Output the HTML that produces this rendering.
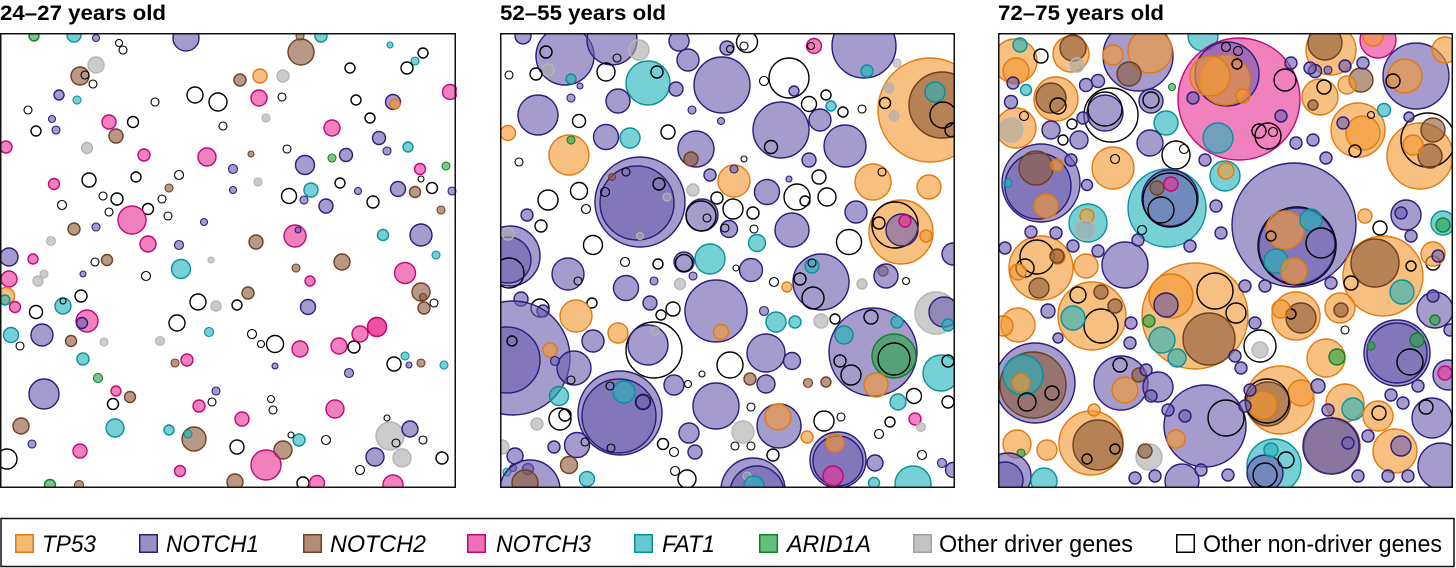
<!DOCTYPE html>
<html><head><meta charset="utf-8"><style>
html,body{margin:0;padding:0;background:#fff;}
svg{display:block;}
text{font-family:"Liberation Sans",Arial,sans-serif;}
</style></head><body>
<svg id="chart" width="1456" height="568" viewBox="0 0 1456 568">
<defs>
<clipPath id="c0"><rect x="0" y="33" width="457" height="455"/></clipPath>
<clipPath id="c1"><rect x="500" y="33" width="455" height="455"/></clipPath>
<clipPath id="c2"><rect x="998" y="33" width="455" height="455"/></clipPath>
</defs>
<g id="titles"></g>
<g id="panels"></g>
<g id="legend"></g>
</svg>
<script>
// ---- data ----
const panelTitles = ["24–27 years old","52–55 years old","72–75 years old"];
const geneCodes = ["T","N1","N2","N3","F","A","O","W"];
const geneLabels = ["TP53","NOTCH1","NOTCH2","NOTCH3","FAT1","ARID1A","Other driver genes","Other non-driver genes"];
// clones: [gene, x(µm-like units 0-456), y, radius]
const clones1 = [
["N1",186,5,13],["F",74,2,7],["A",34,3,5],["N1",96,5,3.5],["W",119,10,3.5],["W",123,17,4],["N2",301,19,13],["N2",300,3,4],["F",321,3,6],["F",390,12,3],["W",423,20,5],["F",415,28,4],["W",407,35,6],["W",350,35,5],
["O",96,32,8],["N2",80,43,9],["W",85,42,4],["W",93,51,4],["T",260,43,7],["N2",240,47,6],["O",283,43,6],["N3",259,65,8],["W",282,64,4],["W",195,62,8],["W",218,69,9],["W",155,69,4],["N1",59,62,5],["F",77,67,4],["W",28,77,4],["N1",52,86,3.5],["N1",56,97,4],["W",36,98,5],["N3",109,89,7],["W",133,89,5.5],["N2",116,103,7],["N3",6,114,6],["O",87,115,5.5],["N3",144,122,6],["N3",207,124,9],["O",266,85,4],["W",223,93,4],["N2",251,121,3],["W",287,116,4],["N1",305,132,9.5],["A",332,125,4],["N1",346,122,6.5],["N3",332,95,8],["W",370,85,5],["W",356,67,5],["N1",393,69,7.5],["T",395,71,5],["N3",450,59,7.5],["N1",379,105,6.5],["N1",387,118,4],["F",408,114,5],["N3",420,136,5.5],["A",446,133,4],["W",421,146,3],["W",432,155,5.5],["N1",398,156,7.5],["N2",415,159,5.5],["N1",452,158,4],["N2",441,177,4],["W",373,169,6],["N1",358,158,3.5],["W",340,150,5],["F",311,157,7],["N1",304,167,4],["W",289,163,7.5],["N1",326,173,7],["O",258,149,4],["N1",233,136,4.5],["N1",233,157,3.5],["W",179,142,4.5],["W",136,144,5],["W",89,147,7],["N3",54,151,5.5],["N2",169,155,4],["W",103,163,4],["W",117,166,6],["W",162,166,4],["W",148,176,5.5],["W",62,172,4.5],["W",109,179,4],["W",168,183,4],
["N3",132,187,14],["N1",204,189,3.5],["N2",74,196,6],["N1",96,194,4],["O",51,208,4.5],["N3",148,211,8],["N1",179,212,4.5],["N2",256,209,7],["N3",295,203,11],["N1",298,197,3],["F",383,202,5.5],["N1",421,202,11],["F",436,222,4],["N1",9,224,9],["N3",33,226,5],["W",95,229,4],["N2",107,227,5.5],["F",181,236,9.5],["O",211,227,3],["N2",342,229,8],["N2",296,235,4],["N3",405,240,10.5],["N3",310,248,5],["N3",9,246,8],["O",44,241,4],["O",38,248,5],["N1",83,241,3],["W",146,243,4.5],
["T",6,263,8.5],["F",5,267,5],["N3",15,274,5.5],["W",36,279,6.5],["F",63,273,8],["W",63,268,3],["W",81,263,6],["N3",87,288,11],["N1",82,290,5.5],["N2",248,260,6],["W",198,269,8],["O",216,273,5],["W",237,272,5],["N1",308,274,7.5],["N2",421,259,9],["N2",423,264,3.5],["N2",424,275,6],["W",434,270,4],["F",11,302,7.5],["N1",42,302,11],["W",20,313,4],["N2",71,308,5.5],["O",104,309,4],["W",177,290,8],["O",160,308,4.5],["F",209,299,4.5],["W",252,301,4.5],["W",261,311,3.5],["W",275,311,8.5],["N3",300,316,8],["N3",339,313,8],["W",354,314,6],["N3",360,301,8],["N3",377,294,9.5],["N3",377,294,9.5],
["F",83,326,6],["N2",175,330,4],["N3",187,327,6],["N1",275,333,3],["W",394,331,7],["F",405,323,4],["N1",409,332,3],["N2",421,330,4],["F",444,332,4],["N1",349,340,4.5],["A",98,345,4.5],["N1",44,361,15],["N3",116,358,5],["N2",130,364,5.5],["W",113,371,5.5],["N1",216,358,4],["W",212,369,4],["W",271,366,3.5],["W",273,377,4],["N3",199,373,6],["N3",242,386,7],["N3",335,376,9],["N2",21,393,8],["F",115,395,9],["F",169,397,5],["N2",194,406,12],["F",188,401,4],["W",237,414,7],["N2",283,417,9],["F",299,407,6],["W",291,402,3],["W",326,407,4.5],["O",390,403,14],["W",396,410,4],["W",387,385,3],["N1",410,396,8],["W",423,407,4],["N1",32,411,4],["N3",80,418,7],["W",7,426,10],["N1",375,424,9],["O",402,425,9],["W",442,425,6],["W",360,437,4.5],["N3",266,432,15],["N3",180,438,5.5],["A",50,452,5.5],["N2",79,452,4.5],["N2",235,449,8],["W",303,450,6],["N3",317,450,7.5],["N3",393,452,10]
];
const clones2 = [
["N1",65,23,29],["W",46,19,6],["O",48,37,6],["F",71,46,5],["N1",112,7,25],["N1",23,3,8],["O",139,17,10],["N1",179,8,10],["N1",188,27,11],["N1",227,15,7],["W",230,16,3.5],["W",247,9,10.5],["W",244,13,4],["N3",314,13,7.5],["W",311,13,3.5],["N1",364,13,32],["F",367,38,6],["O",397,30,4],
["T",430,77,52],["N2",442,72,33],["F",435,59,10],["W",443,82,13],["W",452,97,7],
["W",106,39,9],["W",117,25,4],["W",36,41,6],["W",9,42,4],["F",148,50,22],["W",157,39,6],["N1",176,56,7],["N1",222,52,28],["N1",80,53,3],["W",289,45,20],["N1",294,58,5],["W",264,48,4.5],["N1",38,82,20],["N1",71,65,4],["N1",118,68,12],["W",79,88,6.5],["T",8,100,7.5],["N1",106,104,12.5],["F",130,105,10],["T",69,122,20],["A",71,107,4],["W",19,129,4],["W",168,99,7],["N1",196,116,18],["N2",191,126,7],["N1",192,77,4],["N1",221,88,3.5],["N1",281,97,28],["W",271,114,6.5],["N1",320,87,11],["W",309,71,7.5],["W",326,62,5],["F",331,73,5],["W",343,79,5],["W",362,76,4],["N1",345,113,21],["O",389,55,5],["O",394,83,5],["W",385,70,5.5],["N1",309,127,7],["W",244,126,3],
["N1",140,169,45],["N1",137,170,37],["W",126,139,4],["W",159,151,6],["W",105,159,4.5],["O",167,164,4],["O",140,203,3.5],["N2",112,144,3.5],
["T",234,148,16],["N1",234,136,4],["N1",210,142,6],["O",193,157,6],["W",217,165,6],["W",233,176,10],["W",253,180,6],["N1",267,159,12.5],["W",297,164,13],["W",305,168,5],["W",327,164,9],["W",319,144,7],["N1",289,146,3],["T",373,149,18],["W",382,139,4],["T",429,154,12],
["T",401,199,32],["W",395,192,23],["N1",402,197,16],["N3",405,188,6],["T",426,203,6],["W",379,190,6],["N1",356,179,11],["W",349,209,12.5],["N1",292,197,17],["N1",202,182,16],["W",201,183,15],["W",207,185,4],["N1",229,196,8.5],["W",225,195,4],["F",257,210,8.5],["W",254,196,4],["W",93,212,9.5],["W",48,167,10],["W",79,158,8.5],["W",86,176,4.5],["N1",27,182,6],["W",41,193,6],
["N1",10,223,30],["N1",8,227,23],["O",8,201,6],["W",9,240,15],["N1",453,221,11],["N1",68,241,16],["W",78,248,4],["W",125,229,4.5],["W",158,231,5],["F",210,226,15],["N1",184,229,10],["W",184,230,8.5],["N1",193,243,4],["N1",251,237,11.5],["W",236,235,3],
["N1",321,249,28],["F",312,233,7],["W",300,246,6],["W",313,265,11],["W",312,230,4],["N2",383,238,5],["N1",386,243,12],["W",406,248,3.5],["O",362,251,5],["T",287,254,5],["W",274,249,4.5],["O",180,251,5.5],["N1",154,248,4],["N1",126,255,12.5],["N1",21,266,7],["W",40,275,9],["N1",43,278,6],["W",92,270,5],["T",76,283,16],["N1",150,270,7],["W",161,282,5],["W",173,276,7],["N1",216,278,31],["T",221,299,7.5],["N1",264,278,4.5],["F",276,289,10],["F",295,289,6],["O",321,288,7],["W",335,286,5],
["O",436,280,21],["N1",444,279,15],["F",448,292,6],
["N1",373,319,44],["F",344,302,9],["A",394,323,22],["W",394,326,16],["T",376,352,12],["W",351,342,10],["W",340,328,6],["W",371,284,7],["F",397,289,6],
["N1",13,325,57],["N1",7,327,33],["W",12,308,5],["T",118,300,10],["W",154,317,28],["N1",148,312,20],["O",155,298,4],["N1",93,308,11],["T",50,317,7],["N1",74,335,17],["W",71,347,4],["N1",55,328,4.5],["W",230,332,13],["N1",266,320,19],["N1",292,328,8.5],["F",441,340,18],["W",448,328,6],["N1",174,352,10],["W",202,341,3],["W",188,351,3.5],["N2",250,346,6],["N1",266,351,9],["N2",308,350,4.5],["N2",326,349,5],
["N1",120,380,42],["N1",119,383,37],["F",124,359,11],["W",143,369,7.5],["W",110,353,4],["W",111,415,4],["N1",143,369,7],
["F",59,363,9.5],["W",60,386,11],["W",65,382,6],["O",37,391,6],["N1",216,373,23],["W",251,374,4],["W",341,384,4],["N1",279,393,22],["T",278,384,13],["W",324,388,10],["N3",415,386,6],["O",421,394,4.5],["W",414,363,7.5],["F",398,369,8],["W",448,369,6],["W",390,389,5],["O",243,399,11],["N1",189,400,10],["T",307,404,6],
["N1",338,427,28],["N1",338,428,25],["T",335,410,9],["N3",333,443,10],["N1",77,412,12.5],["W",85,409,4],["N1",54,414,6],["N1",15,423,8],["O",2,414,7],["N2",69,432,8.5],["F",87,446,7.5],["N1",28,436,5.5],["F",7,439,4],["N1",13,435,3.5],["N1",30,457,30],["N2",25,450,13],
["W",163,411,5.5],["W",174,419,4.5],["W",175,438,4.5],["W",187,446,9],["W",235,413,4],["W",251,413,4],["W",273,422,6],["N1",195,419,7],["N1",253,457,32],["N1",257,460,27],["O",247,443,4],["F",254,453,10],["W",379,401,4.5],["W",422,422,4.5],["N1",375,430,8],["F",413,451,18],["F",374,450,5.5],["N1",453,437,7.5],["N1",442,430,4.5]
];
const clones3 = [
["T",17,28,22],["F",22,12,7],["T",18,38,13],["T",73,21,18],["N2",75,15,13],["O",79,32,7],["N1",140,23,35],["T",152,18,22],["N2",131,41,12],["T",115,22,10],["F",205,3,15],
["N3",241,66,61],["N1",229,41,32],["T",227,47,25],["T",212,43,20],["F",220,105,15],["W",270,103,13],["W",287,47,11],["W",261,98,7],["W",275,99,4.5],["T",245,63,7],["W",239,31,5],["W",228,14,4.5],["W",240,18,4.5],
["N3",380,7,18],["T",375,3,10],["T",333,17,25],["N2",327,10,17],["N1",418,43,33],["T",407,43,17],["W",395,48,7],["T",447,17,13],
["W",43,23,7],["F",28,57,5.5],["A",174,54,3.5],["T",58,66,22],["N2",53,65,15],["W",60,73,8],["T",18,95,20],["O",13,97,12],["W",26,83,4.5],["N1",13,69,6.5],
["W",113,82,27],["N1",107,80,18],["W",107,76,17],["N1",153,68,12],["W",153,67,8],["N1",81,107,9],["N1",100,48,6.5],["N1",88,52,6.5],["W",74,91,5],["W",65,107,5],["N1",53,97,9],["F",168,90,12],["N1",152,110,13],["W",178,122,14],["W",186,116,4.5],
["T",322,64,18],["N2",315,72,5],["W",326,54,7],["N2",363,47,12],["T",349,52,9],["N1",317,38,6.5],["N1",330,37,4],
["T",360,97,27],["T",365,100,17],["W",357,118,6],["W",373,82,3.5],["F",386,77,6.5],
["T",422,123,33],["W",430,107,27],["N2",435,97,12],["N2",432,123,12],["T",415,112,10],["N1",411,84,5],
["N1",43,150,39],["N1",40,153,33],["N2",38,135,17],["T",48,173,12],["T",59,132,6],["F",10,150,4],
["T",115,135,21],["W",117,126,4.5],["N1",73,127,6],["N1",89,152,5.5],
["F",169,175,39],["N1",172,165,28],["W",172,167,27],["N2",159,155,7],["N3",173,151,7],["W",163,177,13],["W",144,197,4.5],
["F",227,143,15],["T",228,138,8],
["N1",296,192,62],["W",299,213,39],["N1",299,213,38],["T",287,197,19],["F",313,187,11],["F",278,228,12],["T",296,238,13],["W",323,210,15],["W",273,203,5],
["F",90,190,19],["T",89,183,7],["O",87,197,10],["N1",127,232,23],
["T",43,235,32],["W",39,224,17],["T",60,224,7],["W",27,235,9],["N2",41,255,10],["T",20,239,8],["N2",59,223,7],["T",88,233,12],
["T",385,243,40],["N2",377,230,24],["F",404,259,12],["W",353,250,7],["W",413,233,5],["W",435,230,7],
["T",435,221,12],["F",445,190,12],["A",445,192,7],["N1",408,182,15],["W",382,195,7],["T",367,183,7],
["N1",437,277,18],["A",437,287,5],
["T",94,283,34],["W",103,293,17],["F",75,285,12],["W",80,262,8],["N2",103,259,7],["N2",117,273,7],
["T",197,283,53],["N2",211,306,26],["W",217,258,18],["T",173,263,22],["N1",168,272,12],["F",164,307,13],["F",179,325,9],["W",238,280,10],["A",151,288,6],
["T",20,292,17],["T",5,293,10],["N1",50,278,7],["N1",60,305,5],
["T",298,283,24],["N2",303,285,15],["W",293,281,5],["T",283,276,9],["T",342,275,15],["N2",343,277,7],["W",347,297,4],
["W",262,313,16],["O",262,317,8],
["N1",399,320,33],["N1",399,320,30],["A",419,307,7],["W",412,329,13],["A",373,313,4],
["T",328,325,19],["A",339,324,8],["N1",450,342,15],["N3",447,340,7],
["N1",37,350,40],["N2",35,352,33],["F",25,342,20],["T",23,350,9],["W",29,369,9],["W",54,360,7],
["N1",123,350,27],["T",127,357,13],["N2",141,342,7],["W",122,332,7],["N1",160,354,15],
["N1",207,393,41],["W",228,385,18],["T",178,406,9],
["T",282,367,34],["N2",270,371,22],["T",265,372,14],["T",303,360,13],["W",269,368,22],
["T",347,370,19],["F",355,376,11],["T",380,383,15],["W",381,380,7],["N1",434,385,20],["W",428,374,7],["N1",320,353,7],
["T",93,410,32],["N2",100,412,25],["W",89,426,5],["W",117,416,5],["T",96,377,6],
["T",19,411,14],["A",23,420,4],["T",49,417,10],["O",151,424,13],["N2",147,418,7],
["F",276,433,27],["N1",267,440,18],["W",267,442,12],["F",273,417,7],["W",288,427,8],
["N2",334,413,28],["N1",333,413,28],["T",397,418,22],["N1",403,413,10],
["N1",10,443,23],["N1",7,447,18],["F",46,448,13],["N1",184,448,17],["N1",443,433,23],
["N1",85,85,6],["N1",15,50,6],["N1",195,65,6],["N1",207,127,6],["N1",218,173,6],["N1",223,200,6],["N1",192,213,6],["N1",140,207,6],["N1",75,213,6],["N1",100,218,6],["N1",58,200,6],["N1",33,199,6],["N1",7,215,6],["N1",133,290,6],["N1",132,310,6],["N1",148,337,6],["N1",153,363,6],["N1",170,377,6],["N1",187,383,6],["N1",237,323,6],["N1",243,335,6],["N1",252,357,6],["N1",247,373,6],["N1",293,30,6],["N1",312,35,6],["N1",347,33,6],["N1",365,30,6],["N1",283,83,6],["N1",298,110,6],["N1",315,107,6],["N1",328,125,6],["N1",345,90,6],["N1",403,180,6],["N1",413,203,6],["N1",440,223,6],["N1",435,263,6],["N1",452,297,6],["N1",137,445,6],["N1",157,443,6],["N1",203,437,6],["N1",230,442,6],["N1",360,443,6],["N1",390,443,6],["N1",410,443,6],["N1",370,403,6],["N1",350,410,6],["N1",393,362,6],["N1",420,353,6],["N1",405,370,6],["N1",330,377,6],["N1",247,253,6],["N1",267,253,6],["N1",257,290,6],["N1",333,250,6]
];
const panels = [clones1, clones2, clones3];
// ---- styling ----
const panelLeft = [0, 500, 998];
const panelTop = 33, panelSize = 455;
const fills = {T:"#f39a32",N1:"#6e5fae",N2:"#8e5a3a",N3:"#e83395",F:"#23b3bc",A:"#27a444",O:"#a9a9a9",W:"none"};
const strokes = {T:"#e07b10",N1:"#2c1d7c",N2:"#6e4020",N3:"#c0087a",F:"#0a9099",A:"#13802e",O:"#b5b5b5",W:"#000"};
function xScale(i, v){ return panelLeft[i] + v; }
function yScale(v){ return panelTop + v; }
function rScale(v){ return v; }
const NS = "http://www.w3.org/2000/svg";
const titlesG = document.getElementById('titles');
const panelsG = document.getElementById('panels');
panels.forEach((data, i) => {
  const t = document.createElementNS(NS, 'text');
  
  
  t.setAttribute('x', panelLeft[i]);
  t.setAttribute('y', 20);
  t.setAttribute('font-size', '21');
  t.setAttribute('font-weight', 'bold');
  t.setAttribute('textLength', '166');
  t.setAttribute('lengthAdjust', 'spacingAndGlyphs');
  t.textContent = panelTitles[i];
  titlesG.appendChild(t);
  const g = document.createElementNS(NS, 'g');
  
  
  g.setAttribute('clip-path', 'url(#c' + i + ')');
  data.forEach(d => {
    const c = document.createElementNS(NS, 'circle');
    
    
    c.setAttribute('cx', xScale(i, d[1]));
    c.setAttribute('cy', yScale(d[2]));
    c.setAttribute('r', rScale(d[3]));
    c.setAttribute('fill', fills[d[0]]);
    if (d[0] !== 'W') c.setAttribute('fill-opacity', d[0]==='O' ? '0.6' : '0.62');
    c.setAttribute('stroke', strokes[d[0]]);
    c.setAttribute('stroke-width', d[3] < 5 ? '1.1' : '1.4');
    g.appendChild(c);
  });
  panelsG.appendChild(g);
  const b = document.createElementNS(NS, 'rect');
  
  
  b.setAttribute('x', panelLeft[i] + 0.75);
  b.setAttribute('y', panelTop + 0.75);
  b.setAttribute('width', panelSize + (i===0?1:0) - 1.5);
  b.setAttribute('height', panelSize - 1.5);
  b.setAttribute('fill', 'none');
  b.setAttribute('stroke', '#111');
  b.setAttribute('stroke-width', '1.5');
  panelsG.appendChild(b);
});
// ---- legend ----
const legendG = document.getElementById('legend');
const lb = document.createElementNS(NS, 'rect');


lb.setAttribute('x', 1); lb.setAttribute('y', 518.5); lb.setAttribute('width', 1453); lb.setAttribute('height', 48);
lb.setAttribute('fill', 'none'); lb.setAttribute('stroke', '#111'); lb.setAttribute('stroke-width', '1.5');
legendG.appendChild(lb);
const legSwatchX = [15, 139, 303, 467, 634, 759, 913, 1176];
const legTextX = [42, 166, 330, 496, 662, 787, 939, 1203];
const legTextW = [54, 93, 96, 95, 53, 84, 194, 239];
geneCodes.forEach((code, k) => {
  const s = document.createElementNS(NS, 'rect');
  
  
  s.setAttribute('x', legSwatchX[k] + 0.75); s.setAttribute('y', 534.75);
  s.setAttribute('width', 17.5); s.setAttribute('height', 17.5);
  s.setAttribute('fill', code==='W' ? '#fff' : fills[code]);
  if (code !== 'W') s.setAttribute('fill-opacity', '0.7');
  s.setAttribute('stroke', strokes[code]==='#b5b5b5' ? '#a0a0a0' : strokes[code]);
  s.setAttribute('stroke-width', '1.5');
  legendG.appendChild(s);
  const t = document.createElementNS(NS, 'text');
  
  
  t.setAttribute('x', legTextX[k]);
  t.setAttribute('y', 552);
  t.setAttribute('font-size', '24');
  if (k < 6) t.setAttribute('font-style', 'italic');
  t.setAttribute('textLength', legTextW[k]);
  t.setAttribute('lengthAdjust', 'spacingAndGlyphs');
  t.textContent = geneLabels[k];
  legendG.appendChild(t);
});
</script>
</body></html>
